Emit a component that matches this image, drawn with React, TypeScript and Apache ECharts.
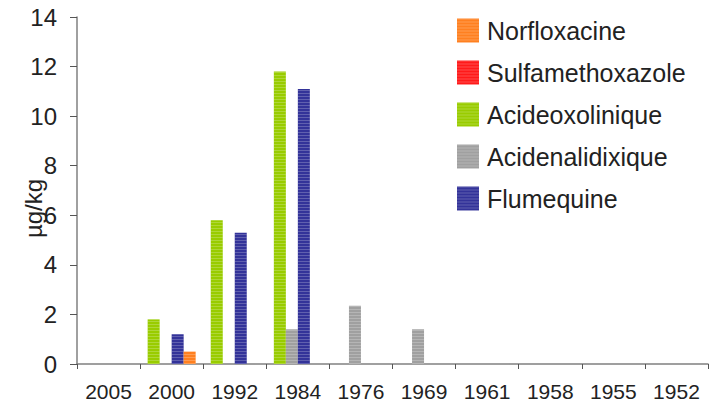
import React, { useEffect, useRef } from "react";
import * as echarts from "echarts";

const years = ["2005", "2000", "1992", "1984", "1976", "1969", "1961", "1958", "1955", "1952"];
const yTicks = [0, 2, 4, 6, 8, 10, 12, 14];
const norfloxacine = [null, 0.5, null, null, null, null, null, null, null, null];
const sulfamethoxazole = [null, null, null, null, null, null, null, null, null, null];
const acideOxolinique = [null, 1.8, 5.8, 11.8, null, null, null, null, null, null];
const acideNalidixique = [null, null, null, 1.4, 2.35, 1.4, null, null, null, null];
const flumequine = [null, 1.2, 5.3, 11.1, null, null, null, null, null, null];

const legendOrder = ["Norfloxacine", "Sulfamethoxazole", "Acideoxolinique", "Acidenalidixique", "Flumequine"];

const stripe = {
  symbol: "rect",
  dashArrayX: [1, 0],
  dashArrayY: [1, 2],
  rotation: 0,
  color: "rgba(255,255,255,0.22)",
  symbolSize: 1,
};

export default function App() {
  const ref = useRef<HTMLDivElement>(null);
  useEffect(() => {
    const chart = echarts.init(ref.current!, null, { renderer: "svg" });
    const font = "Liberation Sans, Arial, sans-serif";
    const mk = (name: string, data: any[], color: string, stack?: string) => ({
      name,
      type: "bar",
      data,
      stack,
      barWidth: 12,
      barGap: "0%",
      itemStyle: { color, decal: stripe },
    });
    chart.setOption({
      animation: false,
      aria: { enabled: true, decal: { show: true } },
      grid: { left: 77, right: 9, top: 17, bottom: 41, containLabel: false, outerBoundsMode: "none" },
      legend: {
        orient: "vertical",
        left: 452,
        top: 13,
        itemWidth: 22,
        itemHeight: 24,
        itemGap: 17,
        icon: "rect",
        data: legendOrder,
        textStyle: { fontSize: 25, color: "#222", fontFamily: font, padding: [0, 0, 0, 3] },
      },
      xAxis: {
        type: "category",
        data: years,
        boundaryGap: true,
        axisLine: { lineStyle: { color: "#808080", width: 1.5 } },
        axisTick: { show: true, length: 5, alignWithLabel: false, lineStyle: { color: "#555" } },
        axisLabel: { fontSize: 21, color: "#222", fontFamily: font, margin: 17, interval: 0 },
      },
      yAxis: {
        type: "value",
        min: yTicks[0],
        max: yTicks[yTicks.length - 1],
        interval: 2,
        name: "µg/kg",
        nameLocation: "middle",
        nameGap: 32,
        nameMoveOverlap: false,
        nameTextStyle: { fontSize: 24, color: "#222", fontFamily: font, padding: [0, 36, 0, 0] },
        splitLine: { show: false },
        axisLine: { show: true, lineStyle: { color: "#808080", width: 1.5 } },
        axisTick: { show: true, length: 7, lineStyle: { color: "#555" } },
        axisLabel: { fontSize: 24, color: "#222", fontFamily: font, margin: 20 },
      },
      series: [
        mk("Acideoxolinique", acideOxolinique, "#99CC00"),
        mk("Acidenalidixique", acideNalidixique, "#A0A0A0"),
        mk("Flumequine", flumequine, "#333399"),
        mk("Norfloxacine", norfloxacine, "#FF8020", "nr"),
        mk("Sulfamethoxazole", sulfamethoxazole, "#FF1A1A", "nr"),
      ],
    });
    return () => chart.dispose();
  }, []);
  return <div ref={ref} style={{ width: 717, height: 405, position: "absolute", left: 0, top: 0, background: "#fff" }} />;
}
